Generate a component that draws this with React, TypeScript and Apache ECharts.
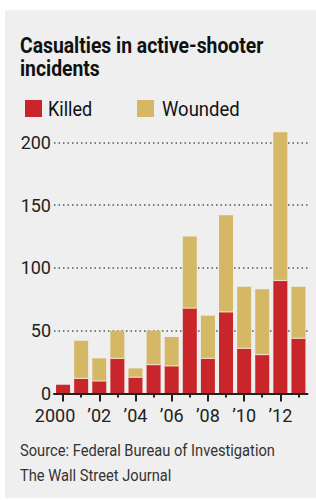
import React, { useEffect, useRef } from "react";
import * as echarts from "echarts";

const years = ["2000","2001","2002","2003","2004","2005","2006","2007","2008","2009","2010","2011","2012","2013"];
const yearLabels = ["2000","","’02","","’04","","’06","","’08","","’10","","’12",""];
const killed = [7, 12, 10, 28, 13, 23, 22, 68, 28, 65, 36, 31, 90, 44];
const wounded = [0, 30, 18, 22, 7, 27, 23, 57, 34, 77, 49, 52, 118, 41];
const yTicks = { min: 0, max: 200, interval: 50 };

const titleLines = ["Casualties in active-shooter", "incidents"];
const legendNames = ["Killed", "Wounded"];
const sourceLines = ["Source: Federal Bureau of Investigation", "The Wall Street Journal"];

const RED = "#c8262a";
const GOLD = "#d5b866";
const FONT = "Roboto, 'Noto Sans', sans-serif";

export default function App() {
  const ref = useRef<HTMLDivElement>(null);
  useEffect(() => {
    document.body.style.margin = "0";
    const chart = echarts.init(ref.current!, null, { renderer: "svg" });
    const even = (i: number) => i % 2 === 0;
    chart.setOption({
      animation: false,
      backgroundColor: "#ffffff",
      graphic: [
        { type: "rect", z: -10, shape: { x: 5, y: 10, width: 311, height: 488 }, style: { fill: "#efefef" } },
        { type: "text", x: 20, y: 46, scaleX: 0.9, style: { text: titleLines[0], font: `bold 21.5px ${FONT}`, fill: "#111", verticalAlign: "middle" } },
        { type: "text", x: 20, y: 68.5, scaleX: 0.9, style: { text: titleLines[1], font: `bold 21.5px ${FONT}`, fill: "#111", verticalAlign: "middle" } },
        { type: "rect", shape: { x: 25, y: 100, width: 17, height: 17 }, style: { fill: RED } },
        { type: "text", x: 48, y: 109, scaleX: 0.86, style: { text: legendNames[0], font: `21px ${FONT}`, fill: "#111", verticalAlign: "middle" } },
        { type: "rect", shape: { x: 137, y: 100, width: 17, height: 17 }, style: { fill: GOLD } },
        { type: "text", x: 162, y: 109, scaleX: 0.88, style: { text: legendNames[1], font: `21px ${FONT}`, fill: "#111", verticalAlign: "middle" } },
        { type: "text", x: 20, y: 451, scaleX: 0.89, style: { text: sourceLines[0], font: `16.5px ${FONT}`, fill: "#333", verticalAlign: "middle" } },
        { type: "text", x: 20, y: 476, scaleX: 0.89, style: { text: sourceLines[1], font: `16.5px ${FONT}`, fill: "#333", verticalAlign: "middle" } },
      ],
      grid: { left: 54, right: 8.5, top: 142.3, bottom: 106.5, containLabel: false },
      xAxis: [
        {
          type: "category",
          data: years,
          position: "bottom",
          axisLine: { show: true, lineStyle: { color: "#222", width: 2 } },
          axisTick: { show: true, alignWithLabel: true, interval: 0, length: 4, lineStyle: { color: "#222", width: 2 } },
          axisLabel: { show: false },
          splitLine: { show: false },
          z: 5,
        },
        {
          type: "category",
          data: years,
          position: "bottom",
          offset: 0,
          axisLine: { show: false },
          axisTick: { show: true, alignWithLabel: true, interval: even, length: 8, lineStyle: { color: "#222", width: 2 } },
          axisLabel: {
            show: true,
            interval: even,
            formatter: (_v: string, i: number) => (i === 0 ? `{first|${yearLabels[i]}}` : yearLabels[i]),
            rich: { first: { fontSize: 18, fontFamily: FONT, color: "#222", padding: [0, 16, 0, 0] } },
            fontSize: 18,
            fontFamily: FONT,
            color: "#222",
            margin: 13,
          },
          splitLine: { show: false },
        },
      ],
      yAxis: {
        type: "value",
        min: yTicks.min,
        max: yTicks.max,
        interval: yTicks.interval,
        axisLine: { show: false },
        axisTick: { show: false },
        axisLabel: { fontSize: 18, fontFamily: FONT, color: "#222", margin: 3 },
        splitLine: { show: true, lineStyle: { color: "#555", width: 1.5, type: [1.5, 3] } },
      },
      series: [
        { name: legendNames[0], type: "bar", stack: "total", data: killed, barWidth: 14, itemStyle: { color: RED }, clip: false, xAxisIndex: 0 },
        { name: legendNames[1], type: "bar", stack: "total", data: wounded, barWidth: 14, itemStyle: { color: GOLD }, clip: false, xAxisIndex: 0 },
        {
          type: "custom",
          xAxisIndex: 0,
          clip: false,
          z: 10,
          data: killed.map((k, i) => [i, k, wounded[i]]),
          renderItem: (params: any, api: any) => {
            if (api.value(2) <= 0) return null;
            const p = api.coord([api.value(0), api.value(1)]);
            return {
              type: "line",
              shape: { x1: p[0] - 7, y1: p[1], x2: p[0] + 7, y2: p[1] },
              style: { stroke: "#f1dcc0", lineWidth: 1.2 },
            };
          },
        },
      ],
    });
    return () => chart.dispose();
  }, []);
  return <div ref={ref} style={{ width: 316, height: 500 }} />;
}
